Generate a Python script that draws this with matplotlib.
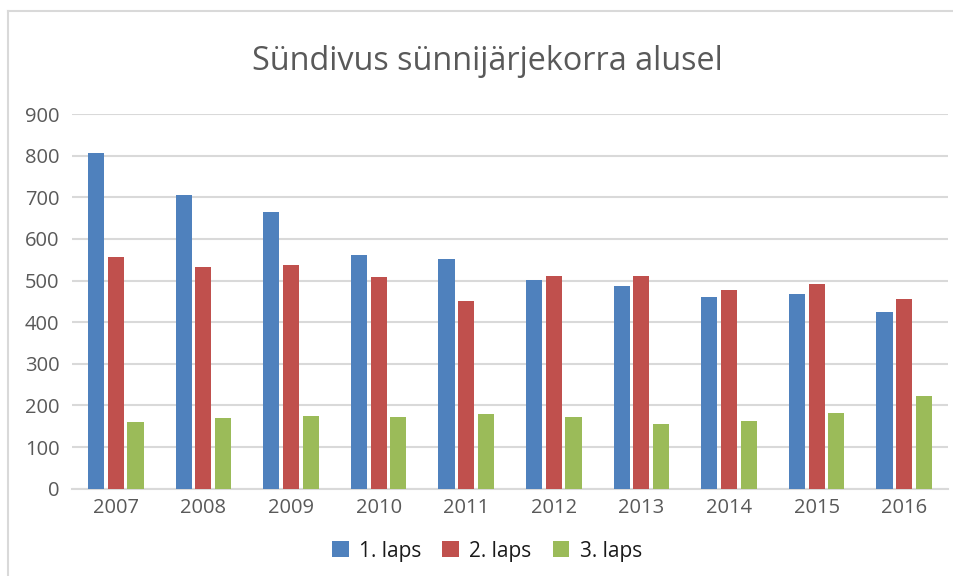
import numpy as np
import matplotlib.pyplot as plt
from matplotlib.lines import Line2D

# --------------------------------------------------------------------------
# Data
# --------------------------------------------------------------------------
YEARS = ["2007", "2008", "2009", "2010", "2011",
         "2012", "2013", "2014", "2015", "2016"]
LAPS_1 = [806, 705, 665, 561, 552, 501, 487, 461, 468, 425]
LAPS_2 = [557, 533, 537, 509, 451, 511, 511, 477, 492, 456]
LAPS_3 = [160, 170, 175, 172, 179, 172, 155, 163, 182, 223]
SERIES_NAMES = ["1. laps", "2. laps", "3. laps"]
Y_TICKS = [0, 100, 200, 300, 400, 500, 600, 700, 800, 900]
TITLE = "Sündivus sünnijärjekorra alusel"

# Office 2007 palette
COLORS = ["#4F81BD", "#C0504D", "#9BBB59"]
GRID = "#D9D9D9"
TEXT = "#595959"

plt.rcParams["font.family"] = ["Open Sans", "DejaVu Sans"]

fig = plt.figure(figsize=(9.54, 5.76), dpi=100)
W, H = 954, 576

# chart frame (left and top edges visible)
fig.add_artist(Line2D([8 / W, 8 / W], [0, 1 - 11 / H], transform=fig.transFigure,
                      color=GRID, linewidth=1.5))
fig.add_artist(Line2D([8 / W, 1], [1 - 11 / H, 1 - 11 / H], transform=fig.transFigure,
                      color=GRID, linewidth=1.5))

ax = fig.add_axes([72 / W, 87.3 / H, 876 / W, 374.7 / H])

x = np.arange(len(YEARS))
step = 0.225
width = 0.183
for i, (vals, col, name) in enumerate(zip([LAPS_1, LAPS_2, LAPS_3], COLORS, SERIES_NAMES)):
    ax.bar(x + (i - 1) * step, vals, width=width, color=col, label=name, zorder=3)

ax.set_xlim(-0.5, len(YEARS) - 0.5)
ax.set_ylim(0, 900)
ax.set_yticks(Y_TICKS)
ax.set_xticks(x)
ax.set_xticklabels(YEARS)
ax.yaxis.grid(True, color=GRID, linewidth=1.5, zorder=0)
ax.set_axisbelow(True)
for s in ("top", "right", "left"):
    ax.spines[s].set_visible(False)
ax.spines["bottom"].set_color(GRID)
ax.spines["bottom"].set_linewidth(1.5)
ax.tick_params(axis="y", length=0, pad=9, labelsize=14.5, labelcolor=TEXT)
ax.tick_params(axis="x", length=0, pad=7, labelsize=14.5, labelcolor=TEXT)

fig.text(487 / W, 1 - 61 / H, TITLE, ha="center", va="center",
         fontsize=23.3, color=TEXT)

fig.legend(loc="center", bbox_to_anchor=(487 / W, 1 - 551 / H), ncol=3,
           frameon=False, fontsize=15, handlelength=0.8, handleheight=0.8,
           handletextpad=0.5, columnspacing=1.0, labelcolor="#1a1a1a")

fig.savefig("out.png", dpi=100)
